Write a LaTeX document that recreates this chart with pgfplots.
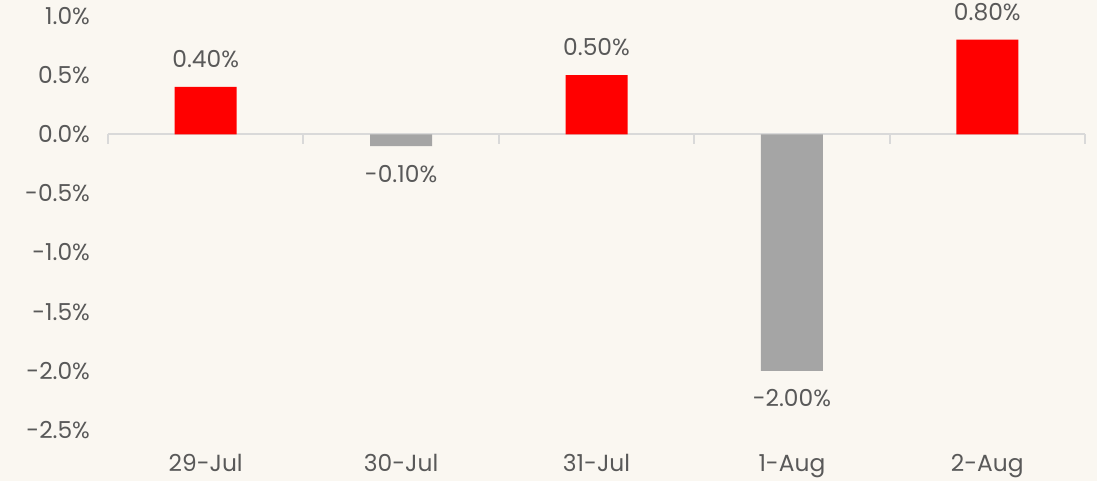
\documentclass[border=0pt]{standalone}
\usepackage{pgfplots}
\pgfplotsset{compat=1.18}
\usepackage{fontspec}
\setmainfont{Poppins}
\usetikzlibrary{backgrounds,calc}
\definecolor{bgc}{HTML}{FAF7F1}
\definecolor{txt}{HTML}{595959}
\definecolor{barred}{HTML}{FF0000}
\definecolor{bargray}{HTML}{A5A5A5}
\definecolor{zl}{HTML}{D9D9D9}
\begin{document}
\begin{tikzpicture}
\begin{axis}[
  name=ax,
  scale only axis,
  width=732.75pt, height=310.5pt,
  xmin=-0.5, xmax=4.5,
  ymin=-2.5, ymax=1.0,
  ytick={-2.5,-2,-1.5,-1,-0.5,0,0.5,1},
  xtick={0,1,2,3,4},
  xticklabels={29-Jul,30-Jul,31-Jul,1-Aug,2-Aug},
  axis line style={draw=none},
  major tick length=0pt,
  ybar, bar width=46.5pt, bar shift=0pt,
  font=\fontsize{17.5}{20}\selectfont,
  every tick label/.append style={text=txt, font=\fontsize{17.5}{20}\selectfont},
  /pgf/number format/assume math mode=true,
  yticklabel={\pgfmathprintnumber[fixed,fixed zerofill,precision=1,assume math mode=true]{\tick}\%},
  yticklabel style={xshift=-10pt},
  xticklabel style={yshift=-15pt},
  nodes near coords={\pgfmathprintnumber[fixed,fixed zerofill,precision=2,assume math mode=true]{\pgfplotspointmeta}\%},
  every node near coord/.append style={text=txt, font=\fontsize{17.5}{20}\selectfont, inner sep=14pt},
  clip=false,
]
\draw[zl, line width=1.5pt] (axis cs:-0.5,0) -- (axis cs:4.5,0);
\pgfplotsinvokeforeach{-0.5,0.5,1.5,2.5,3.5,4.5}{
  \draw[zl, line width=1.5pt] (axis cs:#1,0) -- ([yshift=-7.5pt]axis cs:#1,0);
}
\addplot[fill=barred, draw=none] coordinates {(0,0.4) (2,0.5) (4,0.8)};
\addplot[fill=bargray, draw=none] coordinates {(1,-0.1) (3,-2.0)};
\end{axis}
\pgfresetboundingbox
\coordinate (bl) at ($(ax.south west)+(-81pt,-38.25pt)$);
\coordinate (tr) at ($(ax.north east)+(9pt,12pt)$);
\begin{scope}[on background layer]
\fill[bgc] (bl) rectangle (tr);
\end{scope}
\path[use as bounding box] (bl) rectangle (tr);
\end{tikzpicture}
\end{document}
